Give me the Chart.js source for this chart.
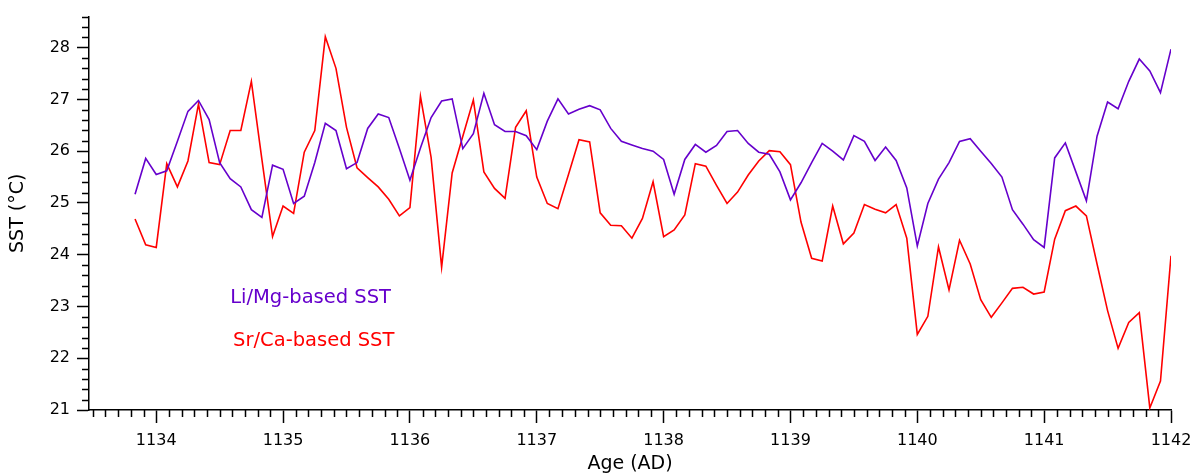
<!DOCTYPE html>
<html>
<head>
<meta charset="utf-8">
<script src="https://cdn.jsdelivr.net/npm/chart.js@4.4.1/dist/chart.umd.min.js"></script>
<style>
	html, body { margin: 0; padding: 0; background: #fff; }
	#wrap { width: 1200px; height: 474px; }
</style>
</head>
<body>
<div id="wrap"><canvas id="sstcanvas" width="1200" height="474"></canvas></div>
<script>
// monthly sample ages (AD)
var ages = [
	1133.833, 1133.917,
	1134.000, 1134.083, 1134.167, 1134.250, 1134.333, 1134.417, 1134.500, 1134.583, 1134.667, 1134.750, 1134.833, 1134.917,
	1135.000, 1135.083, 1135.167, 1135.250, 1135.333, 1135.417, 1135.500, 1135.583, 1135.667, 1135.750, 1135.833, 1135.917,
	1136.000, 1136.083, 1136.167, 1136.250, 1136.333, 1136.417, 1136.500, 1136.583, 1136.667, 1136.750, 1136.833, 1136.917,
	1137.000, 1137.083, 1137.167, 1137.250, 1137.333, 1137.417, 1137.500, 1137.583, 1137.667, 1137.750, 1137.833, 1137.917,
	1138.000, 1138.083, 1138.167, 1138.250, 1138.333, 1138.417, 1138.500, 1138.583, 1138.667, 1138.750, 1138.833, 1138.917,
	1139.000, 1139.083, 1139.167, 1139.250, 1139.333, 1139.417, 1139.500, 1139.583, 1139.667, 1139.750, 1139.833, 1139.917,
	1140.000, 1140.083, 1140.167, 1140.250, 1140.333, 1140.417, 1140.500, 1140.583, 1140.667, 1140.750, 1140.833, 1140.917,
	1141.000, 1141.083, 1141.167, 1141.250, 1141.333, 1141.417, 1141.500, 1141.583, 1141.667, 1141.750, 1141.833, 1141.917,
	1142.000
];

var liMgSST = [
	25.17, 25.86,
	25.55, 25.62, 26.19, 26.77, 26.98, 26.61, 25.78, 25.47, 25.31, 24.87, 24.72, 25.73,
	25.65, 24.99, 25.13, 25.78, 26.54, 26.40, 25.66, 25.78, 26.44, 26.72, 26.65, 26.05,
	25.44, 26.06, 26.65, 26.97, 27.01, 26.05, 26.34, 27.12, 26.51, 26.38, 26.38, 26.30,
	26.03, 26.58, 27.01, 26.72, 26.81, 26.88, 26.80, 26.44, 26.19, 26.12, 26.05, 26.00,
	25.84, 25.17, 25.84, 26.13, 25.98, 26.11, 26.38, 26.40, 26.15, 25.98, 25.94, 25.60,
	25.06, 25.39, 25.78, 26.15, 26.00, 25.83, 26.30, 26.19, 25.82, 26.08, 25.82, 25.29,
	24.17, 24.99, 25.46, 25.78, 26.19, 26.24, 26.00, 25.76, 25.50, 24.87, 24.59, 24.29,
	24.14, 25.87, 26.16, 25.60, 25.04, 26.29, 26.95, 26.82, 27.35, 27.78, 27.55, 27.13,
	27.97
];

var srCaSST = [
	24.69, 24.19,
	24.14, 25.76, 25.31, 25.81, 26.91, 25.78, 25.74, 26.40, 26.40, 27.35, 25.84, 24.35,
	24.94, 24.80, 25.98, 26.40, 28.21, 27.60, 26.46, 25.68, 25.49, 25.31, 25.07, 24.75,
	24.91, 27.06, 25.88, 23.76, 25.58, 26.29, 26.99, 25.60, 25.28, 25.09, 26.46, 26.78,
	25.50, 24.99, 24.89, 25.55, 26.22, 26.18, 24.81, 24.57, 24.56, 24.32, 24.70, 25.41,
	24.35, 24.48, 24.77, 25.76, 25.71, 25.34, 24.99, 25.21, 25.54, 25.81, 26.01, 25.99,
	25.74, 24.63, 23.93, 23.88, 24.94, 24.21, 24.42, 24.97, 24.88, 24.81, 24.97, 24.32,
	22.46, 22.81, 24.15, 23.32, 24.28, 23.82, 23.13, 22.79, 23.07, 23.35, 23.37, 23.24,
	23.28, 24.30, 24.85, 24.94, 24.75, 23.82, 22.92, 22.19, 22.69, 22.88, 21.04, 21.56,
	23.98
];

var xTicks = [1134, 1135, 1136, 1137, 1138, 1139, 1140, 1141, 1142];
var yTicks = [21, 22, 23, 24, 25, 26, 27, 28];

var seriesNames = ["Li/Mg-based SST", "Sr/Ca-based SST"];
var seriesColors = ["#6600cc", "#ff0000"];

function pts(ys) {
	var out = [];
	for (var i = 0; i < ages.length; i++) out.push({x: ages[i], y: ys[i]});
	return out;
}

var FONT = "'DejaVu Sans', sans-serif";

// minor ticks and the in-plot series labels
var extras = {
	id: 'extras',
	afterDraw: function(chart) {
		var ctx = chart.ctx;
		var xs = chart.scales.x, ys = chart.scales.y;
		var area = chart.chartArea;
		ctx.save();
		ctx.strokeStyle = '#000';
		ctx.lineWidth = 1.5;
		ctx.beginPath();
		for (var k = 0; k <= 85; k++) {
			var v = 1133.5 + k * 0.1;
			if (Math.abs(v - Math.round(v)) < 1e-6) continue;
			var px = Math.round(xs.getPixelForValue(v)) + 0.5;
			ctx.moveTo(px, area.bottom);
			ctx.lineTo(px, area.bottom + 7);
		}
		for (var j = 0; j <= 38; j++) {
			var w = 21 + j * 0.2;
			if (Math.abs(w - Math.round(w)) < 1e-6) continue;
			var py = Math.round(ys.getPixelForValue(w)) + 0.5;
			ctx.moveTo(area.left, py);
			ctx.lineTo(area.left - 7, py);
		}
		ctx.stroke();

		ctx.font = '19.5px ' + FONT;
		ctx.textBaseline = 'alphabetic';
		ctx.textAlign = 'left';
		ctx.fillStyle = seriesColors[0];
		ctx.fillText(seriesNames[0], xs.getPixelForValue(1134.583), ys.getPixelForValue(23.06));
		ctx.fillStyle = seriesColors[1];
		ctx.fillText(seriesNames[1], xs.getPixelForValue(1134.606), ys.getPixelForValue(22.23));
		ctx.restore();
	}
};

var ctx = document.getElementById("sstcanvas").getContext("2d");
window.sstChart = new Chart(ctx, {
	type: 'line',
	data: {
		datasets: [
			{
				label: seriesNames[0],
				data: pts(liMgSST),
				borderColor: seriesColors[0],
				borderWidth: 1.6,
				pointRadius: 0,
				tension: 0,
				fill: false
			},
			{
				label: seriesNames[1],
				data: pts(srCaSST),
				borderColor: seriesColors[1],
				borderWidth: 1.6,
				pointRadius: 0,
				tension: 0,
				fill: false
			}
		]
	},
	options: {
		responsive: false,
		animation: false,
		layout: { padding: { left: 0, top: 14, right: 29, bottom: 0 } },
		plugins: {
			legend: { display: false },
			tooltip: { enabled: false },
			title: { display: false }
		},
		scales: {
			x: {
				type: 'linear',
				min: 1133.47,
				max: 1142,
				afterBuildTicks: function(s) { s.ticks = xTicks.map(function(v) { return {value: v}; }); },
				afterFit: function(s) { s.height = 64; },
				border: { display: true, color: '#000', width: 1.5 },
				grid: { drawOnChartArea: false, drawTicks: true, tickLength: 13, tickColor: '#000', tickWidth: 1.5 },
				ticks: { color: '#000', font: { family: FONT, size: 16 }, padding: 8, maxRotation: 0, autoSkip: false,
					callback: function(v) { return String(v); } },
				title: { display: true, text: 'Age (AD)', color: '#000', font: { family: FONT, size: 19, lineHeight: 1.0 }, padding: { top: 0, bottom: 0 } }
			},
			y: {
				min: 21,
				max: 28.6,
				afterBuildTicks: function(s) { s.ticks = yTicks.map(function(v) { return {value: v}; }); },
				afterFit: function(s) { s.width = 89; },
				border: { display: true, color: '#000', width: 1.5 },
				grid: { drawOnChartArea: false, drawTicks: true, tickLength: 12, tickColor: '#000', tickWidth: 1.5 },
				ticks: { color: '#000', font: { family: FONT, size: 16 }, padding: 7,
					callback: function(v) { return String(v); } },
				title: { display: true, text: 'SST (°C)', color: '#000', font: { family: FONT, size: 19 }, padding: { top: 7, bottom: 0 } }
			}
		}
	},
	plugins: [extras]
});
</script>
</body>
</html>
